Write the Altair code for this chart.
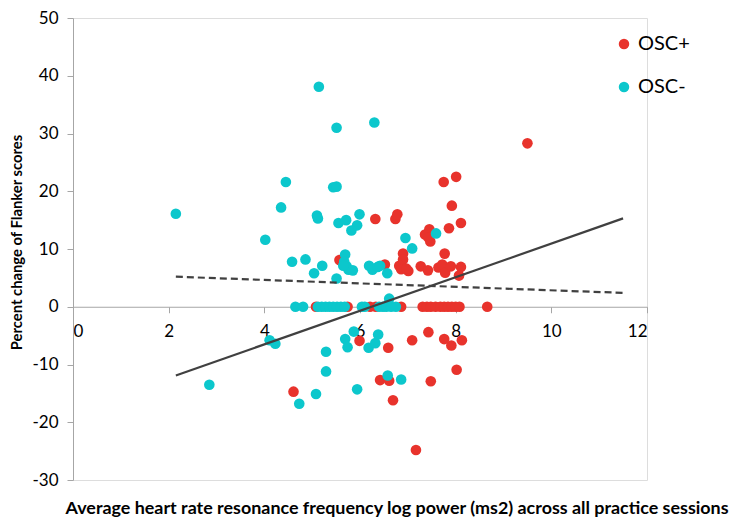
import altair as alt
import pandas as pd

# OSC+ (red) points
pos_x = [9.50, 7.75, 8.01, 7.92, 6.32, 6.74, 6.78, 8.11, 7.86, 7.45, 7.36, 7.47, 7.43,
         7.77, 5.57, 6.90, 6.90, 6.52, 6.82, 6.86, 7.01, 6.97, 7.27, 7.42, 7.64, 7.72,
         7.78, 7.90, 8.11, 8.07,
         5.08, 5.74, 6.21, 6.33, 6.86, 7.31, 7.40, 7.48, 7.58, 7.68, 7.76, 7.84, 7.92,
         8.00, 8.08, 8.66,
         7.43, 7.09, 7.76, 7.91, 8.13, 5.99, 6.59, 8.02, 7.48, 6.42, 6.61, 6.69, 7.17, 4.61]
pos_y = [28.3, 21.6, 22.5, 17.5, 15.2, 15.2, 16.0, 14.5, 13.6, 13.4, 12.5, 11.3, 12.0,
         9.2, 8.1, 9.2, 8.2, 7.3, 7.1, 6.5, 6.2, 6.6, 7.0, 6.3, 6.8, 7.3,
         5.9, 7.0, 6.9, 5.4,
         0, 0, 0, 0, 0, 0, 0, 0, 0, 0, 0, 0, 0,
         0, 0, 0,
         -4.4, -5.8, -5.6, -6.7, -5.8, -5.9, -7.1, -10.9, -12.9, -12.7, -12.8, -16.2, -24.8, -14.7]

# OSC- (cyan) points
neg_x = [5.14, 5.51, 6.30, 4.45, 5.44, 5.51, 4.35, 2.15, 5.10, 5.12, 5.55, 5.71, 5.99,
         5.94, 5.82, 4.02, 5.69, 4.58, 4.86, 5.04, 5.21, 5.67, 5.72, 5.76, 5.85, 5.65,
         5.51, 6.19, 6.26, 6.37, 6.42, 6.57, 6.95, 7.09, 7.59, 6.61,
         4.65, 4.81, 5.12, 5.20, 5.28, 5.36, 5.44, 5.52, 5.60, 5.68, 6.04, 6.10, 6.40,
         6.48, 6.55, 6.65, 6.75,
         4.11, 4.23, 2.85, 5.08, 4.73, 5.29, 5.29, 5.87, 5.69, 5.74, 6.18, 6.32, 6.38,
         5.94, 6.58, 6.86]
neg_y = [38.1, 31.0, 31.9, 21.6, 20.7, 20.8, 17.2, 16.1, 15.8, 15.3, 14.5, 15.0, 16.0,
         14.1, 13.2, 11.6, 9.05, 7.8, 8.2, 5.8, 7.1, 7.8, 7.0, 6.4, 6.3, 7.1,
         4.9, 7.1, 6.4, 6.9, 7.1, 5.8, 11.9, 10.1, 12.7, 1.4,
         0, 0, 0, 0, 0, 0, 0, 0, 0, 0, 0, 0, 0,
         0, 0, 0, 0,
         -5.8, -6.4, -13.5, -15.1, -16.8, -7.8, -11.2, -4.3, -5.6, -7.0, -7.1, -6.3, -4.8,
         -14.3, -11.9, -12.6]

groups = ["OSC+", "OSC-"]
colors = ["#E8332C", "#0CC7CC"]

# trend lines (endpoints)
line_x = [2.15, 11.5]
solid_y = [-11.9, 15.3]
dashed_y = [5.2, 2.4]

x_ticks = [0, 2, 4, 6, 8, 10, 12]
y_ticks = [-30, -20, -10, 0, 10, 20, 30, 40, 50]

pts = pd.DataFrame({
    "x": pos_x + neg_x,
    "y": pos_y + neg_y,
    "group": ["OSC+"] * len(pos_x) + ["OSC-"] * len(neg_x),
})
solid = pd.DataFrame({"x": line_x, "y": solid_y})
dashed = pd.DataFrame({"x": line_x, "y": dashed_y})

FONT = "Lato"
H = 462
zero_y = H * 50 / 80

xscale = alt.Scale(domain=[0, 12], nice=False, zero=False)
yscale = alt.Scale(domain=[-30, 50], nice=False, zero=False)

xaxis = alt.Axis(
    values=x_ticks, offset=-(H - zero_y), grid=False,
    domainColor="#A6A6A6", tickColor="#A6A6A6", tickSize=6, domainWidth=1,
    labelFontSize=17, labelColor="black", labelFont=FONT, labelPadding=11,
    labelExpr="'' + datum.value",
    title="Average heart rate resonance frequency log power (ms2) across all practice sessions",
    titleFont=FONT, titleFontSize=17.9, titleFontWeight="bold", titleColor="black",
    titleX=-8, titleY=202, titleAlign="left", titleBaseline="middle", titleAngle=0,
)
yaxis = alt.Axis(
    values=y_ticks, grid=False,
    domainColor="#A6A6A6", tickColor="#A6A6A6", tickSize=6, domainWidth=1,
    labelFontSize=17, labelColor="black", labelFont=FONT, labelPadding=9,
    labelExpr="'' + datum.value",
    title="Percent change of Flanker scores",
    titleFont=FONT, titleFontSize=14.8, titleFontWeight="bold", titleColor="black",
    titleX=-56, titleY=224, titleAngle=-90, titleAlign="center", titleBaseline="middle",
)

points = alt.Chart(pts).mark_circle(size=113, opacity=1).encode(
    x=alt.X("x:Q", scale=xscale, axis=xaxis),
    y=alt.Y("y:Q", scale=yscale, axis=yaxis),
    color=alt.Color("group:N", scale=alt.Scale(domain=groups, range=colors),
                    sort=groups,
                    legend=alt.Legend(orient="none", legendX=541, legendY=16, title=None,
                                      symbolType="circle", symbolSize=110,
                                      symbolStrokeWidth=0, labelFontSize=20,
                                      labelFont=FONT, labelColor="black",
                                      labelOffset=4, rowPadding=23, padding=0)),
)

solid_line = alt.Chart(solid).mark_line(color="#404040", strokeWidth=2.2).encode(
    x=alt.X("x:Q", scale=xscale), y=alt.Y("y:Q", scale=yscale))
dashed_line = alt.Chart(dashed).mark_line(color="#404040", strokeWidth=2.2,
                                          strokeDash=[7, 4]).encode(
    x=alt.X("x:Q", scale=xscale), y=alt.Y("y:Q", scale=yscale))

chart = alt.layer(points, solid_line, dashed_line).properties(
    width=574, height=H,
    autosize=alt.AutoSizeParams(type="none"),
    padding={"left": 65, "top": 10, "right": 94, "bottom": 40},
).configure_view(stroke=None).configure(background="white")

chart.save("out.html", embed_options={"renderer": "svg", "actions": False})
